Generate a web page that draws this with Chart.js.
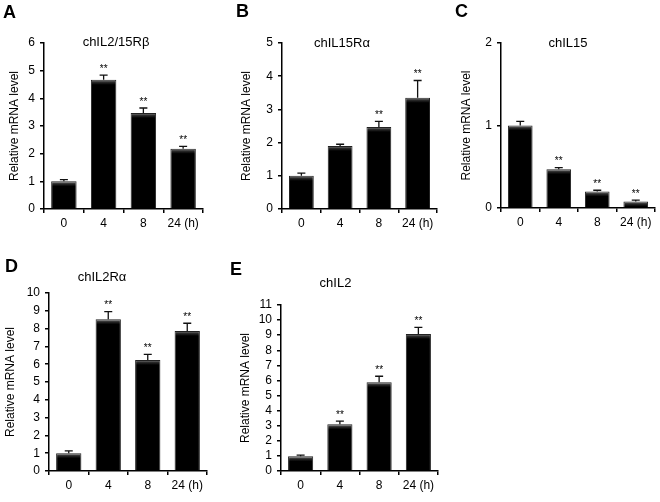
<!DOCTYPE html>
<html><head><meta charset="utf-8">
<script src="https://cdn.jsdelivr.net/npm/chart.js@4.4.1/dist/chart.umd.min.js"></script>
<style>
html,body{margin:0;padding:0;background:#fff;width:660px;height:502px;overflow:hidden;position:relative;}
canvas{position:absolute;display:block;}
</style></head><body>
<canvas id="cA"></canvas>
<canvas id="cB"></canvas>
<canvas id="cC"></canvas>
<canvas id="cD"></canvas>
<canvas id="cE"></canvas>
<script>
const FONT = "'Liberation Sans', Arial, Helvetica, sans-serif";
Chart.defaults.font.family = FONT;
Chart.defaults.color = '#000';
Chart.defaults.animation = false;

// ---- data ----
const categories = ['0', '4', '8', '24 (h)'];
const yAxisTitle = 'Relative mRNA level';

const titleA = 'chIL2/15Rβ';
const valuesA = [1.00, 4.67, 3.47, 2.18];
const errorsA = [0.06, 0.17, 0.18, 0.08];
const starsA = ['', '**', '**', '**'];
const yMaxA = 6;

const titleB = 'chIL15Rα';
const valuesB = [1.00, 1.90, 2.47, 3.35];
const errorsB = [0.08, 0.05, 0.17, 0.52];
const starsB = ['', '', '**', '**'];
const yMaxB = 5;

const titleC = 'chIL15';
const valuesC = [1.00, 0.47, 0.20, 0.08];
const errorsC = [0.05, 0.02, 0.015, 0.015];
const starsC = ['', '**', '**', '**'];
const yMaxC = 2;

const titleD = 'chIL2Rα';
const valuesD = [1.00, 8.52, 6.24, 7.87];
const errorsD = [0.13, 0.43, 0.31, 0.43];
const starsD = ['', '**', '**', '**'];
const yMaxD = 10;

const titleE = 'chIL2';
const valuesE = [0.97, 3.09, 5.88, 9.08];
const errorsE = [0.08, 0.22, 0.40, 0.44];
const starsE = ['', '**', '**', '**'];
const yMaxE = 11;

// ---- layout (canvas box, plot area, text positions relative to canvas) ----
const panels = [
  {id:'cA', letter:'A', title:titleA, values:valuesA, errors:errorsA, stars:starsA, yMax:yMaxA,
   left:0, top:0, w:215, h:250, areaL:44, areaR:203, areaT:43, areaB:209, yTitlePad:7, xPad:3,
   titleX:116, titleY:42, letterX:3, letterY:13},
  {id:'cB', letter:'B', title:titleB, values:valuesB, errors:errorsB, stars:starsB, yMax:yMaxB,
   left:215, top:0, w:225, h:250, areaL:282, areaR:437, areaT:43, areaB:209, yTitlePad:24, xPad:3,
   titleX:127, titleY:43, letterX:21, letterY:12.5},
  {id:'cC', letter:'C', title:titleC, values:valuesC, errors:errorsC, stars:starsC, yMax:yMaxC,
   left:440, top:0, w:220, h:250, areaL:501, areaR:655, areaT:43, areaB:208, yTitlePad:19, xPad:3,
   titleX:128, titleY:43, letterX:15, letterY:12},
  {id:'cD', letter:'D', title:titleD, values:valuesD, errors:errorsD, stars:starsD, yMax:yMaxD,
   left:0, top:250, w:220, h:252, areaL:49, areaR:207, areaT:293, areaB:471, yTitlePad:3, xPad:3,
   titleX:102, titleY:27, letterX:5, letterY:17},
  {id:'cE', letter:'E', title:titleE, values:valuesE, errors:errorsE, stars:starsE, yMax:yMaxE,
   left:220, top:250, w:225, h:252, areaL:281, areaR:438, areaT:305, areaB:471, yTitlePad:18, xPad:3,
   titleX:115.5, titleY:33, letterX:10, letterY:20}
];

function barFill(ctx) {
  try {
    const chart = ctx.chart;
    if (!chart.chartArea || ctx.type !== 'data') return '#000';
    const yTop = chart.scales.y.getPixelForValue(ctx.raw);
    const g = chart.ctx.createLinearGradient(0, yTop, 0, yTop + 5);
    g.addColorStop(0, '#8a8a8a');
    g.addColorStop(0.5, '#2a2a2a');
    g.addColorStop(1, '#000');
    return g;
  } catch (e) { return '#000'; }
}

function makePanel(p) {
  const canvas = document.getElementById(p.id);
  canvas.width = p.w; canvas.height = p.h;
  canvas.style.left = p.left + 'px'; canvas.style.top = p.top + 'px';
  canvas.style.width = p.w + 'px'; canvas.style.height = p.h + 'px';

  const deco = {
    id: 'deco' + p.id,
    afterDatasetsDraw(chart) {
      const c = chart.ctx, ys = chart.scales.y;
      const meta = chart.getDatasetMeta(0);
      c.save();
      meta.data.forEach((bar, i) => {
        const v = p.values[i], e = p.errors[i];
        const yTop = ys.getPixelForValue(v + e);
        const yBar = ys.getPixelForValue(v);
        c.strokeStyle = '#111'; c.lineWidth = 1.3;
        c.beginPath();
        c.moveTo(bar.x, yBar); c.lineTo(bar.x, yTop);
        c.moveTo(bar.x - 4, yTop); c.lineTo(bar.x + 4, yTop);
        c.stroke();
        if (p.stars[i]) {
          c.fillStyle = '#000';
          c.font = '10px ' + FONT;
          c.textAlign = 'center'; c.textBaseline = 'middle';
          c.fillText(p.stars[i], bar.x, yTop - 6);
        }
      });
      c.restore();
    },
    afterDraw(chart) {
      const c = chart.ctx;
      c.save();
      c.fillStyle = '#000';
      c.font = '13px ' + FONT;
      c.textAlign = 'center'; c.textBaseline = 'middle';
      c.fillText(p.title, p.titleX, p.titleY);
      c.font = 'bold 18px ' + FONT;
      c.textAlign = 'left';
      c.fillText(p.letter, p.letterX, p.letterY);
      c.restore();
    }
  };

  new Chart(canvas, {
    type: 'bar',
    data: {
      labels: categories,
      datasets: [{
        data: p.values,
        backgroundColor: barFill,
        borderColor: '#222',
        borderWidth: 1,
        categoryPercentage: 1,
        barPercentage: 0.64
      }]
    },
    options: {
      responsive: false,
      animation: false,
      events: [],
      layout: { padding: { left: 0, top: p.areaT - p.top, right: p.left + p.w - p.areaR, bottom: 0 } },
      plugins: { legend: { display: false }, tooltip: { enabled: false }, title: { display: false } },
      scales: {
        x: {
          grid: { display: true, drawOnChartArea: false, drawTicks: true, tickLength: 4, color: '#000', lineWidth: 1.5, offset: true },
          border: { display: true, color: '#000', width: 1.5 },
          ticks: { font: { size: 12 }, color: '#000', padding: p.xPad, maxRotation: 0, autoSkip: false },
          afterFit(scale) { scale.height = p.top + p.h - p.areaB; }
        },
        y: {
          min: 0, max: p.yMax,
          grid: { display: true, drawOnChartArea: false, drawTicks: true, tickLength: 4, color: '#000', lineWidth: 1.5 },
          border: { display: true, color: '#000', width: 1.5 },
          ticks: { stepSize: 1, autoSkip: false, font: { size: 12 }, color: '#000', padding: 5 },
          title: { display: true, text: yAxisTitle, font: { size: 12 }, color: '#000', padding: { top: p.yTitlePad, bottom: 0 } },
          afterFit(scale) { scale.width = p.areaL - p.left; }
        }
      }
    },
    plugins: [deco]
  });
}

panels.forEach(makePanel);
</script>
</body></html>
